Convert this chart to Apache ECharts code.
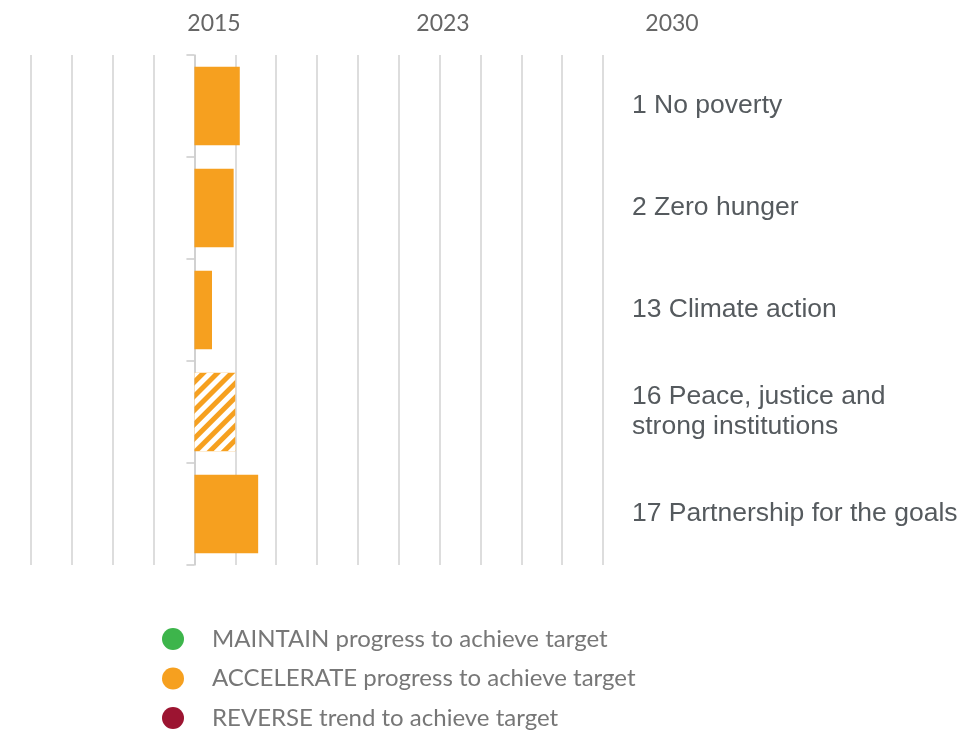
<!DOCTYPE html>
<html>
<head>
<meta charset="utf-8">
<script src="https://cdn.jsdelivr.net/npm/echarts@6/dist/echarts.min.js"></script>
<style>
  html, body { margin: 0; padding: 0; background: #fff; }
  #chart { width: 976px; height: 731px; }
</style>
</head>
<body>
<div id="chart"></div>
<script>
// goals, top to bottom
const goals = [
  '1 No poverty',
  '2 Zero hunger',
  '13 Climate action',
  '16 Peace, justice and\nstrong institutions',
  '17 Partnership for the goals'
];
// progress since 2015 (in years on the grid)
const progress = [1.11, 0.96, 0.43, 1.0, 1.56];
// which bars are hatched
const hatched = [false, false, false, true, false];
const yearLabels = ['2015', '2023', '2030'];
const legendNames = [
  'MAINTAIN progress to achieve target',
  'ACCELERATE progress to achieve target',
  'REVERSE trend to achieve target'
];
const legendColors = ['#3db54b', '#f6a01f', '#9c1431'];

const chart = echarts.init(document.getElementById('chart'));

// stripes for the hatched bar
const stripes = {
  symbol: 'rect',
  color: '#ffffff',
  dashArrayX: [1, 0],
  dashArrayY: [5, 5],
  rotation: -Math.PI / 4
};

const accelData = progress.map((v, i) => hatched[i]
  ? { value: v, itemStyle: { decal: stripes } }
  : v);

const option = {
  backgroundColor: '#fff',
  animation: false,
  grid: { left: 31, right: 373, top: 55, bottom: 166 },
  xAxis: {
    type: 'value',
    min: -4,
    max: 10,
    interval: 1,
    axisLine: { show: false },
    axisTick: { show: false },
    axisLabel: { show: false },
    splitLine: { lineStyle: { color: '#dddddd', width: 2 } }
  },
  yAxis: [
    {
      type: 'category',
      data: goals,
      inverse: true,
      axisLine: { onZero: true, lineStyle: { color: '#cccccc', width: 1.5 } },
      axisTick: { show: true, length: 8, lineStyle: { color: '#cccccc', width: 1.5 } },
      axisLabel: { show: false }
    },
    {
      type: 'category',
      data: goals,
      inverse: true,
      position: 'right',
      axisLine: { show: false, onZero: false },
      axisTick: { show: false },
      axisLabel: {
        margin: 29,
        fontFamily: 'Liberation Sans, Arial, sans-serif',
        fontSize: 26.5,
        lineHeight: 30,
        color: '#555a5e',
        align: 'left'
      }
    }
  ],
  legend: {
    orient: 'vertical',
    left: 162,
    top: 627,
    padding: 0,
    icon: 'circle',
    itemWidth: 22,
    itemHeight: 22,
    itemGap: 15.5,
    selectedMode: false,
    data: legendNames,
    textStyle: {
      fontFamily: 'Lato, sans-serif',
      fontSize: 24,
      color: '#777777',
      padding: [4, 0, 0, 23]
    }
  },
  graphic: yearLabels.map((t, i) => ({
    type: 'text',
    x: 214 + i * 229,
    y: 24,
    style: {
      text: t,
      fontFamily: 'Lato, sans-serif',
      fontSize: 23,
      fill: '#666666',
      align: 'center',
      verticalAlign: 'middle'
    }
  })),
  series: legendNames.map((name, k) => ({
    name: name,
    type: 'bar',
    stack: 'all',
    barCategoryGap: '23%',
    itemStyle: { color: legendColors[k] },
    data: k === 1 ? accelData : []
  }))
};

chart.setOption(option);
</script>
</body>
</html>
